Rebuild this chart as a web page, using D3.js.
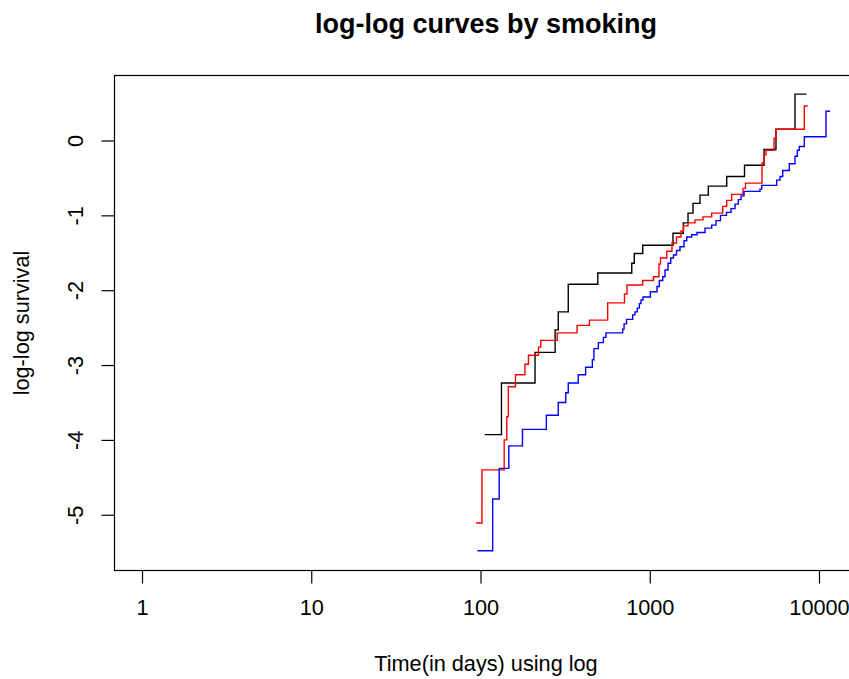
<!DOCTYPE html>
<html>
<head>
<meta charset="utf-8">
<script src="https://cdn.jsdelivr.net/npm/d3@7"></script>
<style>
  html, body { margin: 0; padding: 0; background: #fff; }
  svg { display: block; }
  text { font-family: "Liberation Sans", Arial, sans-serif; fill: #000; }
</style>
</head>
<body>
<svg id="chart" width="849" height="679"></svg>
<script>
// ---------------- data ----------------
const titleText = "log-log curves by smoking";
const xLabel = "Time(in days) using log";
const yLabel = "log-log survival";
const xTicks = [1, 10, 100, 1000, 10000];
const yTicks = [0, -1, -2, -3, -4, -5];
const seriesNames = ["group A", "group B", "group C"];
const seriesColors = ["#000000", "#ff0000", "#0000ff"];

const blackTimes = [106,133,210,276,288,330,493,783,810,909,1372,1579,1683,1801,1981,2218,2849,3629,4732,5569,7215,8438];
const blackValues = [-3.93,-3.24,-2.83,-2.53,-2.29,-1.92,-1.77,-1.64,-1.51,-1.40,-1.24,-1.10,-0.97,-0.84,-0.73,-0.61,-0.48,-0.33,-0.12,0.15,0.62,0.62];

const redTimes = [94,102,138,143,146,161,183,192,220,227,284,372,440,564,709,734,909,1052,1134,1157,1260,1353,1439,1530,1583,1683,1851,2063,2323,2698,2849,3050,3556,3679,4605,4732,4864,5422,5569,8189,8577];
const redValues = [-5.11,-4.40,-4.00,-3.69,-3.29,-3.13,-2.99,-2.87,-2.76,-2.67,-2.57,-2.47,-2.40,-2.17,-2.05,-1.93,-1.87,-1.82,-1.65,-1.57,-1.48,-1.37,-1.29,-1.21,-1.14,-1.10,-1.06,-1.02,-0.97,-0.88,-0.80,-0.72,-0.64,-0.57,-0.30,-0.19,-0.13,0.03,0.15,0.46,0.46];

const blueTimes = [96,118,129,147,177,245,288,319,330,378,418,458,468,497,532,551,692,705,729,793,818,844,868,888,912,1008,1104,1139,1193,1231,1282,1330,1381,1439,1509,1594,1653,1770,1902,2121,2323,2463,2618,2841,3021,3190,3337,3462,3605,4481,4585,5623,5883,6103,6675,7215,7443,7648,8189,11000,11614];
const blueValues = [-5.48,-4.79,-4.38,-4.08,-3.86,-3.67,-3.50,-3.37,-3.24,-3.13,-3.03,-2.93,-2.78,-2.70,-2.63,-2.57,-2.52,-2.45,-2.39,-2.33,-2.29,-2.24,-2.18,-2.13,-2.09,-2.02,-1.95,-1.87,-1.82,-1.73,-1.64,-1.57,-1.53,-1.47,-1.42,-1.34,-1.29,-1.26,-1.23,-1.17,-1.13,-1.07,-1.00,-0.96,-0.91,-0.85,-0.79,-0.74,-0.68,-0.65,-0.60,-0.53,-0.48,-0.40,-0.31,-0.21,-0.13,-0.08,0.05,0.39,0.39];

// ---------------- layout ----------------
const W = 849, H = 679;
const box = { left: 114.5, top: 75.5, right: 857.5, bottom: 570.5 };
const fontSize = 21.7;

const svg = d3.select("#chart");
svg.append("rect").attr("width", W).attr("height", H).attr("fill", "#fff");

const x = d3.scaleLog().domain([1, 10000]).range([142, 819]);
const y = d3.scaleLinear().domain([0, -5]).range([140.5, 514.75]);

// clip to plot box
svg.append("clipPath").attr("id", "plotclip")
  .append("rect")
  .attr("x", box.left).attr("y", box.top)
  .attr("width", box.right - box.left).attr("height", box.bottom - box.top);

// series
const series = [
  { name: seriesNames[0], color: seriesColors[0], t: blackTimes, v: blackValues },
  { name: seriesNames[1], color: seriesColors[1], t: redTimes, v: redValues },
  { name: seriesNames[2], color: seriesColors[2], t: blueTimes, v: blueValues }
];

const line = d3.line()
  .x(d => x(d[0]))
  .y(d => y(d[1]))
  .curve(d3.curveStepAfter);

const g = svg.append("g").attr("clip-path", "url(#plotclip)");
g.selectAll("path.series")
  .data(series)
  .join("path")
  .attr("class", "series")
  .attr("fill", "none")
  .attr("stroke", d => d.color)
  .attr("stroke-width", 1.4)
  .attr("d", d => line(d.t.map((t, i) => [t, d.v[i]])));

// box
svg.append("rect")
  .attr("x", box.left).attr("y", box.top)
  .attr("width", box.right - box.left).attr("height", box.bottom - box.top)
  .attr("fill", "none").attr("stroke", "#000").attr("stroke-width", 1.2);

// x axis
const xAxis = d3.axisBottom(x)
  .tickValues(xTicks)
  .tickSize(13)
  .tickPadding(0)
  .tickFormat(d3.format("d"));
const gx = svg.append("g").attr("transform", `translate(0,${box.bottom})`).call(xAxis);
gx.select(".domain").remove();
gx.selectAll(".tick line").attr("stroke", "#000").attr("stroke-width", 1.2);
gx.selectAll(".tick text")
  .attr("y", 44.5).attr("dy", null)
  .attr("font-size", fontSize)
  .attr("font-family", "Liberation Sans, Arial, sans-serif")
  .attr("fill", "#000");

// y axis
const yAxis = d3.axisLeft(y)
  .tickValues(yTicks)
  .tickSize(13)
  .tickPadding(0)
  .tickFormat(d3.format("d"));
const gy = svg.append("g").attr("transform", `translate(${box.left},0)`).call(yAxis);
gy.select(".domain").remove();
gy.selectAll(".tick line").attr("stroke", "#000").attr("stroke-width", 1.2);
gy.selectAll(".tick text")
  .attr("x", null).attr("dy", null)
  .attr("text-anchor", "middle")
  .attr("transform", "translate(-31.5,0) rotate(-90)")
  .attr("font-size", fontSize)
  .attr("font-family", "Liberation Sans, Arial, sans-serif")
  .attr("fill", "#000")
  .text(d => d3.format("d")(d).replace("\u2212", "-"));

// title
svg.append("text")
  .attr("x", 486).attr("y", 33)
  .attr("text-anchor", "middle")
  .attr("font-size", 27)
  .attr("font-weight", "bold")
  .text(titleText);

// x label
svg.append("text")
  .attr("x", 486).attr("y", 671)
  .attr("text-anchor", "middle")
  .attr("font-size", fontSize)
  .text(xLabel);

// y label
svg.append("text")
  .attr("transform", `translate(29,${(box.top + box.bottom) / 2}) rotate(-90)`)
  .attr("text-anchor", "middle")
  .attr("font-size", fontSize)
  .text(yLabel);
</script>
</body>
</html>
